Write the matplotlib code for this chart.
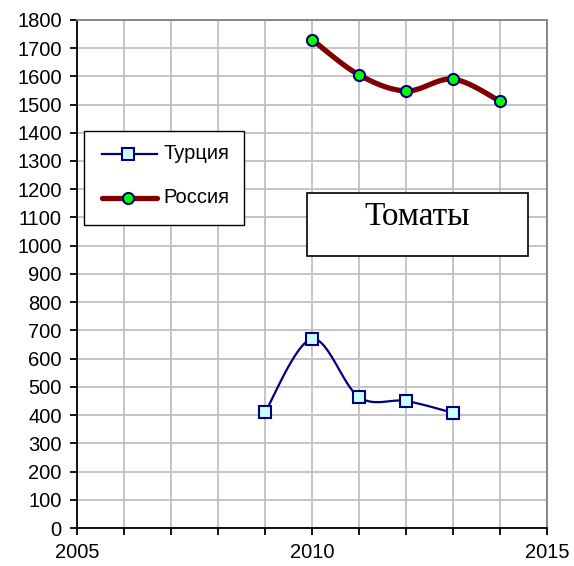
import numpy as np
import matplotlib
matplotlib.use("Agg")
import matplotlib.pyplot as plt
from matplotlib.patches import Rectangle
from matplotlib.lines import Line2D

plt.rcParams['font.family'] = ['Liberation Sans', 'DejaVu Sans']

# Data
turkey_years = [2009, 2010, 2011, 2012, 2013]
turkey_vals = [410, 670, 464, 450, 408]
russia_years = [2010, 2011, 2012, 2013, 2014]
russia_vals = [1730, 1605, 1548, 1590, 1512]

x_ticks = [2005, 2010, 2015]
y_ticks = list(range(0, 1801, 100))

TURKEY = dict(color="#000080", lw=1.6)
RUSSIA = dict(color="#800000", lw=3.8, solid_capstyle="round")
TURKEY_MK = dict(marker="s", ms=8, mfc="#CCFFFF", mec="#000080", mew=1.5)
RUSSIA_MK = dict(marker="o", ms=8, mfc="#00FF00", mec="#000080", mew=1.5)


def smooth(xs, ys, n=30):
    """Excel-like smoothed line: cubic Bezier through the points (Catmull-Rom)."""
    p = np.column_stack([xs, ys]).astype(float)
    out = [p[0]]
    for i in range(len(p) - 1):
        p0 = p[i - 1] if i > 0 else p[i]
        p1, p2 = p[i], p[i + 1]
        p3 = p[i + 2] if i + 2 < len(p) else p[i + 1]
        c1 = p1 + (p2 - p0) / 6
        c2 = p2 - (p3 - p1) / 6
        t = np.linspace(0, 1, n)[1:, None]
        seg = ((1 - t) ** 3) * p1 + 3 * ((1 - t) ** 2) * t * c1 + 3 * (1 - t) * t ** 2 * c2 + t ** 3 * p2
        out.extend(seg)
    out = np.array(out)
    return out[:, 0], out[:, 1]


fig = plt.figure(figsize=(5.74, 5.66), dpi=100)
ax = fig.add_axes([0.134, 0.067, 0.819, 0.898])

sx, sy = smooth(turkey_years, turkey_vals)
ax.plot(sx, sy, zorder=3, **TURKEY)
ax.plot(turkey_years, turkey_vals, ls="none", zorder=4, **TURKEY_MK)

sx, sy = smooth(russia_years, russia_vals)
ax.plot(sx, sy, zorder=3, **RUSSIA)
ax.plot(russia_years, russia_vals, ls="none", zorder=4, **RUSSIA_MK)

# legend box drawn by hand to match the Excel layout
tr = ax.transAxes
ax.add_patch(Rectangle((0.015, 0.596), 0.340, 0.185, transform=tr, fc="white",
                       ec="black", lw=1.0, zorder=5))
for yy, style, mk, label in [(0.736, TURKEY, TURKEY_MK, "Турция"),
                             (0.650, RUSSIA, RUSSIA_MK, "Россия")]:
    ax.add_line(Line2D([0.053, 0.170], [yy, yy], transform=tr, zorder=6, **style))
    ax.add_line(Line2D([0.108], [yy], transform=tr, zorder=7, ls="none", **mk))
    ax.text(0.184, yy, label, transform=tr, fontsize=14.5, va="center", ha="left",
            zorder=7)

# title box
ax.add_patch(Rectangle((0.489, 0.535), 0.471, 0.124, transform=tr, fc="white",
                       ec="black", lw=1.2, zorder=5))
ax.text(0.723, 0.612, "Томаты", transform=tr, ha="center", va="center",
        fontsize=24, family=["Liberation Serif", "DejaVu Serif"], zorder=6)

ax.set_xlim(2005, 2015)
ax.set_ylim(0, 1800)
ax.set_xticks(x_ticks)
ax.set_xticks(range(2005, 2016), minor=True)
ax.set_yticks(y_ticks)
ax.grid(True, which="both", color="#C0C0C0", lw=1.3)
ax.set_axisbelow(True)
ax.tick_params(axis="both", which="major", labelsize=14.5, length=5, width=1.3,
               direction="out", color="black")
ax.tick_params(axis="y", pad=6)
ax.tick_params(axis="x", pad=6)
ax.tick_params(axis="x", which="minor", length=5, width=1.3, direction="out")

for s in ["left", "bottom"]:
    ax.spines[s].set_color("black")
    ax.spines[s].set_linewidth(1.3)
for s in ["top", "right"]:
    ax.spines[s].set_color("#808080")
    ax.spines[s].set_linewidth(1.3)

fig.savefig("out.png", dpi=100)
